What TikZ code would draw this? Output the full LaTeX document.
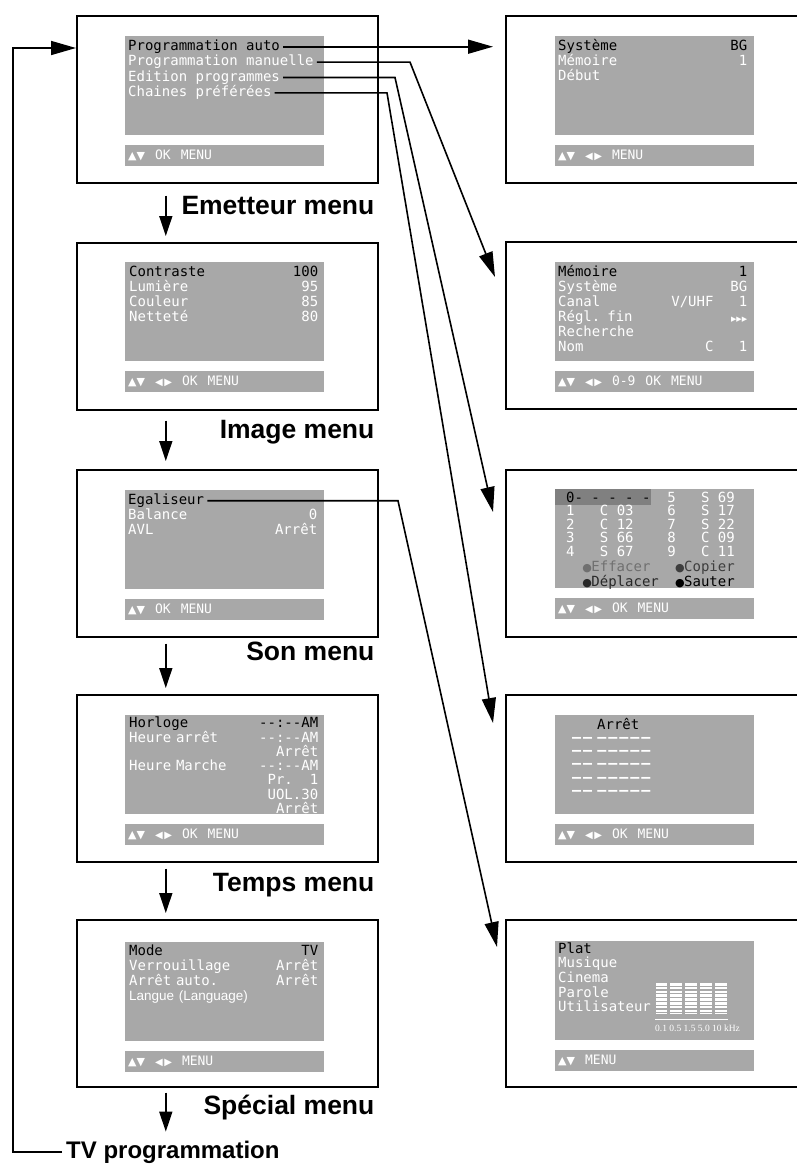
\documentclass[tikz,border=0pt]{standalone}
\usepackage{fontspec}
\setmainfont{Liberation Sans}
\setsansfont{Liberation Sans}
\setmonofont{DejaVu Sans Mono}
\newfontfamily\symfont{DejaVu Sans}
\newfontfamily\khzfont{Liberation Serif}
\usepackage{xcolor}
\usetikzlibrary{arrows.meta, positioning}

\definecolor{osdgray}{RGB}{168,168,168}
\definecolor{osddark}{RGB}{128,128,128}
\definecolor{effgray}{RGB}{112,112,112}
\definecolor{copgray}{RGB}{62,62,62}
\definecolor{depgray}{RGB}{40,40,40}

% OSD key symbols and fixed character gaps
\newcommand{\keyud}{{\symfont\fontsize{11}{11}\selectfont ▲▼}}
\newcommand{\keylr}{{\symfont\fontsize{10}{10}\selectfont ◀\kern1.5pt▶}}
\newcommand{\keyfine}{{\symfont\fontsize{7}{7}\selectfont ▶▶▶}}
\newcommand{\keygap}{\hspace{10pt}}
\newcommand{\bull}{\makebox[0.6em]{\symfont\fontsize{11}{11}\selectfont ●}}
\newcommand{\osdgap}[1]{\hspace*{#1\fontcharwd\font`0}}

\begin{document}
\begin{tikzpicture}[x=1pt, y=-1pt,
        frame/.style={draw, line width=1.6pt, minimum width=301pt, minimum height=167pt, inner sep=0pt, anchor=north west},
        screen/.style={fill=osdgray, minimum width=199pt, minimum height=99pt, inner sep=0pt},
        keybar/.style={fill=osdgray, minimum width=199pt, minimum height=21pt, inner sep=0pt, text width=193pt, align=left, text=white, font=\ttfamily\fontsize{13}{13}\selectfont},
        osdline/.style={inner sep=0pt, text height=10pt, text depth=3pt, text=white, font=\ttfamily\fontsize{14}{15}\selectfont},
        osdtext/.style={inner sep=0pt, text width=189pt, align=left, anchor=base west, text=white, font=\ttfamily\fontsize{14}{15}\selectfont},
        heading/.style={inner sep=0pt, anchor=base east, font=\sffamily\bfseries\fontsize{26.5}{30}\selectfont},
        drop/.style={line width=1.6pt, -{Triangle[length=20pt, width=13pt]}},
        link/.style={line width=1.6pt, -{Triangle[length=25pt, width=14pt]}}
    ]
        \useasboundingbox (0,0) rectangle (797,1176);

        % Main menus (left column)
        \node[frame] (emetteur) at (76,15) {};
        \node[frame] (image) at (76,242) {};
        \node[frame] (son) at (76,469) {};
        \node[frame] (temps) at (76,694) {};
        \node[frame] (special) at (76,919) {};

        % Sub menus (right column)
        \node[frame] (auto) at (505,15) {};
        \node[frame] (manuel) at (505,241) {};
        \node[frame] (edition) at (505,469) {};
        \node[frame] (favoris) at (505,694) {};
        \node[frame] (egaliseur) at (505,919) {};

        % Emetteur menu
        \node[screen, below right=21pt and 49pt of emetteur.north west] (emscr) {};
        \node[keybar, below=9pt of emscr] (embar) {\keyud\keygap OK\keygap MENU};
        \node[osdline, text=black, below right=4pt and 3pt of emscr.north west] (pauto) {Programmation auto};
        \node[osdline, below=2pt of pauto.south west, anchor=north west] (pman) {Programmation manuelle};
        \node[osdline, below=2pt of pman.south west, anchor=north west] (pedit) {Edition programmes};
        \node[osdline, below=2pt of pedit.south west, anchor=north west] (pfav) {Chaines préférées};
        \node[heading] (emlabel) at ([xshift=-4pt, yshift=-31pt]emetteur.south east) {Emetteur menu};

        % Image menu
        \node[screen, below right=20pt and 49pt of image.north west] (imscr) {};
        \node[keybar, below=9pt of imscr] (imbar) {\keyud\keygap\keylr\keygap OK\keygap MENU};
        \node[osdtext] (imlist) at ([xshift=4pt, yshift=-14pt]imscr.north west)
            {\textcolor{black}{Contraste\hfill 100}\\ Lumière\hfill 95\\ Couleur\hfill 85\\ Netteté\hfill 80};
        \node[heading] (imlabel) at ([xshift=-4pt, yshift=-28pt]image.south east) {Image menu};

        % Son menu
        \node[screen, below right=21pt and 49pt of son.north west] (soscr) {};
        \node[keybar, below=9pt of soscr] (sobar) {\keyud\keygap OK\keygap MENU};
        \node[osdline, text=black, below right=4pt and 3pt of soscr.north west] (egal) {Egaliseur};
        \node[osdtext] (solist) at ([yshift=-15pt]egal.base west) {Balance\hfill 0\\ AVL\hfill Arrêt};
        \node[heading] (solabel) at ([xshift=-4pt, yshift=-23pt]son.south east) {Son menu};

        % Temps menu
        \node[screen, below right=21pt and 49pt of temps.north west] (tmscr) {};
        \node[keybar, below=9pt of tmscr] (tmbar) {\keyud\keygap\keylr\keygap OK\keygap MENU};
        \node[osdtext, font=\ttfamily\fontsize{14}{14.2}\selectfont] (tmlist) at ([xshift=4pt, yshift=-12pt]tmscr.north west)
            {\textcolor{black}{Horloge\hfill -{}-:-{}-AM}\\ Heure arrêt\hfill -{}-:-{}-AM\\ \hspace*{\fill}Arrêt\\
             Heure Marche\hfill -{}-:-{}-AM\\ \hspace*{\fill}Pr.\osdgap{2}1\\ \hspace*{\fill}UOL.30\\ \hspace*{\fill}Arrêt};
        \node[heading] (tmlabel) at ([xshift=-4pt, yshift=-29pt]temps.south east) {Temps menu};

        % Special menu
        \node[screen, below right=23pt and 49pt of special.north west] (spscr) {};
        \node[keybar, below=9pt of spscr] (spbar) {\keyud\keygap\keylr\keygap MENU};
        \node[osdtext] (splist) at ([xshift=4pt, yshift=-13pt]spscr.north west)
            {\textcolor{black}{Mode\hfill TV}\\ Verrouillage\hfill Arrêt\\ Arrêt auto.\hfill Arrêt\\
             {\sffamily\fontsize{13.5}{15}\selectfont Langue (Language)}};
        \node[heading] (splabel) at ([xshift=-4pt, yshift=-27pt]special.south east) {Spécial menu};

        \node[inner sep=0pt, anchor=base west, font=\sffamily\bfseries\fontsize{24}{28}\selectfont] (tvprog) at (66,1158) {TV programmation};

        % Programmation auto
        \node[screen, below right=21pt and 50pt of auto.north west] (auscr) {};
        \node[keybar, below=9pt of auscr] (aubar) {\keyud\keygap\keylr\keygap MENU};
        \node[osdtext] (aulist) at ([xshift=3pt, yshift=-14pt]auscr.north west)
            {\textcolor{black}{Système\hfill BG}\\ Mémoire\hfill 1\\ Début};

        % Programmation manuelle
        \node[screen, below right=21pt and 50pt of manuel.north west] (mascr) {};
        \node[keybar, below=9pt of mascr] (mabar) {\keyud\keygap\keylr\keygap 0-9\keygap OK\keygap MENU};
        \node[osdtext] (malist) at ([xshift=3pt, yshift=-14pt]mascr.north west)
            {\textcolor{black}{Mémoire\hfill 1}\\ Système\hfill BG\\ Canal\hfill V/UHF\osdgap{3}1\\
             Régl. fin\hfill \keyfine\\ Recherche\\ Nom\hfill C\osdgap{3}1};

        % Edition programmes
        \node[screen, below right=20pt and 50pt of edition.north west] (edscr) {};
        \node[keybar, below=9pt of edscr] (edbar) {\keyud\keygap\keylr\keygap OK\keygap MENU};
        \node[fill=osddark, minimum width=96pt, minimum height=16pt, inner sep=0pt, below right=0pt and 0pt of edscr.north west] (edmark) {};
        \node[osdtext, font=\ttfamily\fontsize{14}{13.5}\selectfont] (edgrid) at ([xshift=11pt, yshift=-13pt]edscr.north west)
            {\textcolor{black}{0-\osdgap{1}-\osdgap{1}-\osdgap{1}-\osdgap{1}-}\osdgap{2}5\osdgap{3}S\osdgap{1}69\\
             1\osdgap{3}C\osdgap{1}03\osdgap{4}6\osdgap{3}S\osdgap{1}17\\
             2\osdgap{3}C\osdgap{1}12\osdgap{4}7\osdgap{3}S\osdgap{1}22\\
             3\osdgap{3}S\osdgap{1}66\osdgap{4}8\osdgap{3}C\osdgap{1}09\\
             4\osdgap{3}S\osdgap{1}67\osdgap{4}9\osdgap{3}C\osdgap{1}11};
        \node[osdtext, font=\ttfamily\fontsize{14}{12}\selectfont] (edkeys) at ([yshift=-69pt]edgrid.base west)
            {\osdgap{2}{\color{effgray}\bull Effacer}\osdgap{3}{\color{copgray}\bull Copier}\\
             \osdgap{2}{\color{depgray}\bull Déplacer}\osdgap{2}{\color{black}\bull Sauter}};

        % Chaines preferees
        \node[screen, below right=21pt and 50pt of favoris.north west] (fvscr) {};
        \node[keybar, below=9pt of fvscr] (fvbar) {\keyud\keygap\keylr\keygap OK\keygap MENU};
        \node[osdline, text=black, anchor=base west] (fvstate) at ([xshift=42pt, yshift=-14pt]fvscr.north west) {Arrêt};
        \node[osdtext, font=\ttfamily\bfseries\fontsize{15}{13.4}\selectfont] (fvdash) at ([xshift=17pt, yshift=-27pt]fvscr.north west)
            {–\kern2pt–\hspace*{5pt}–\kern2pt–\kern2pt–\kern2pt–\kern2pt–\\
             –\kern2pt–\hspace*{5pt}–\kern2pt–\kern2pt–\kern2pt–\kern2pt–\\
             –\kern2pt–\hspace*{5pt}–\kern2pt–\kern2pt–\kern2pt–\kern2pt–\\
             –\kern2pt–\hspace*{5pt}–\kern2pt–\kern2pt–\kern2pt–\kern2pt–\\
             –\kern2pt–\hspace*{5pt}–\kern2pt–\kern2pt–\kern2pt–\kern2pt–};

        % Egaliseur
        \node[screen, below right=22pt and 50pt of egaliseur.north west] (egscr) {};
        \node[keybar, below=9pt of egscr] (egbar) {\keyud\keygap MENU};
        \node[osdtext, font=\ttfamily\fontsize{14}{14.7}\selectfont] (eglist) at ([xshift=3pt, yshift=-12pt]egscr.north west)
            {\textcolor{black}{Plat}\\ Musique\\ Cinema\\ Parole\\ Utilisateur};
        \draw[white, line width=11.5pt, dash pattern=on 2.6pt off 1.2pt]
            (661.5,983) -- (661.5,1014) (676,983) -- (676,1014) (691,983) -- (691,1014)
            (706,983) -- (706,1014) (721,983) -- (721,1014);
        \draw[white, line width=1pt] (655,1019) -- (728,1019);
        \node[inner sep=0pt, anchor=base west, text=white, font=\khzfont\fontsize{9.5}{9.5}\selectfont] (egscale) at (655,1031) {0.1 0.5 1.5 5.0 10 kHz};

        % Menu sequence
        \draw[drop] ([xshift=-61.5pt, yshift=-12pt]emetteur.south) -- ([xshift=-61.5pt, yshift=6pt]image.north);
        \draw[drop] ([xshift=-61.5pt, yshift=-10pt]image.south) -- ([xshift=-61.5pt, yshift=8pt]son.north);
        \draw[drop] ([xshift=-61.5pt, yshift=-6pt]son.south) -- ([xshift=-61.5pt, yshift=6pt]temps.north);
        \draw[drop] ([xshift=-61.5pt, yshift=-6pt]temps.south) -- ([xshift=-61.5pt, yshift=6pt]special.north);
        \coordinate (tvin) at ([xshift=-61.5pt, yshift=-44pt]special.south);
        \draw[drop] ([xshift=-61.5pt, yshift=-5pt]special.south) -- (tvin);

        % Back to the first menu
        \coordinate (loop) at (13,48);
        \draw[link] ([xshift=-4pt]tvprog.west) -| (loop) -- (emetteur.west |- loop);

        % Sub menu links
        \coordinate (manbend) at (410,0);
        \coordinate (editbend) at (395,0);
        \coordinate (favbend) at (387,0);
        \coordinate (egalbend) at (398,0);
        \draw[link, shorten >=12pt] ([xshift=3pt]pauto.east) -- (pauto.east -| auto.west);
        \draw[link] ([xshift=3pt]pman.east) -- (pman.east -| manbend) -- ([xshift=-10pt, yshift=-36pt]manuel.north west);
        \draw[link] ([xshift=3pt]pedit.east) -- (pedit.east -| editbend) -- ([xshift=-12pt, yshift=-43pt]edition.north west);
        \draw[link] ([xshift=3pt]pfav.east) -- (pfav.east -| favbend) -- ([xshift=-12pt, yshift=-29pt]favoris.north west);
        \draw[link] ([xshift=3pt]egal.east) -- (egal.east -| egalbend) -- ([xshift=-8pt, yshift=-28pt]egaliseur.north west);

    \end{tikzpicture}
\end{document}
